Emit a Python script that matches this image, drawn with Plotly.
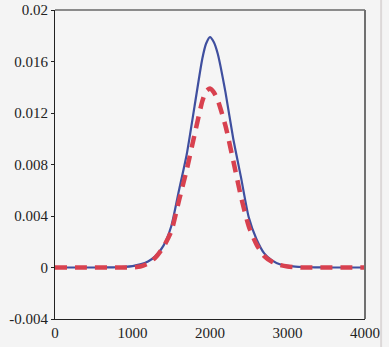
import plotly.graph_objects as go

x_vals = [0, 100, 200, 300, 400, 500, 600, 700, 800, 900, 1000, 1100, 1200, 1300, 1400,
          1500, 1600, 1700, 1800, 1900, 1950, 2000, 2050, 2100, 2200, 2300, 2400, 2500,
          2600, 2700, 2800, 2900, 3000, 3100, 3200, 3300, 3400, 3500, 3600, 3700, 3800,
          3900, 4000]

blue_vals = [0, 0, 0, 0, 0, 0, 0, 0.00001, 0.00002, 0.00005, 0.00011, 0.00024, 0.00047,
             0.00090, 0.00170, 0.00320, 0.00600, 0.00880, 0.01250, 0.01620, 0.01740,
             0.01790, 0.01750, 0.01660, 0.01360, 0.01000, 0.00700, 0.00390, 0.00220,
             0.00110, 0.00055, 0.00025, 0.00013, 0.00007, 0.00004, 0.00002, 0.00001,
             0, 0, 0, 0, 0, 0]

red_vals = [0, 0, 0, 0, 0, 0, 0, 0, 0, 0, 0.00001, 0.00008, 0.00030, 0.00080, 0.00160,
            0.00280, 0.00520, 0.00760, 0.01030, 0.01290, 0.01370, 0.01390, 0.01360,
            0.01300, 0.01100, 0.00830, 0.00550, 0.00320, 0.00180, 0.00088, 0.00045,
            0.00020, 0.00008, 0.00003, 0, 0, 0, 0, 0, 0, 0, 0, 0]

y_ticks = [-0.004, 0, 0.004, 0.008, 0.012, 0.016, 0.02]
y_tick_labels = ["-0.004", "0", "0.004", "0.008", "0.012", "0.016", "0.02"]
x_ticks = [0, 1000, 2000, 3000, 4000]
x_tick_labels = ["0", "1000", "2000", "3000", "4000"]

fig = go.Figure()
fig.add_trace(go.Scatter(x=x_vals, y=blue_vals, mode="lines",
                         line=dict(color="#3f4f9f", width=2.2, shape="spline", smoothing=0.6),
                         showlegend=False))
fig.add_trace(go.Scatter(x=x_vals, y=red_vals, mode="lines",
                         line=dict(color="#d8414f", width=4.5, dash="12px,8px",
                                   shape="spline", smoothing=0.6),
                         showlegend=False))

font = dict(family="Times New Roman, Liberation Serif, serif", size=15, color="#222222")
fig.update_layout(
    width=389, height=347,
    margin=dict(l=55, r=24, t=10, b=28),
    paper_bgcolor="#f4f4f4", plot_bgcolor="#f5f5f5",
    font=font,
    xaxis=dict(range=[0, 4000], tickvals=x_ticks, ticktext=x_tick_labels,
               showgrid=False, zeroline=False, showline=True, linecolor="#222222",
               linewidth=1.2, mirror=False, ticks="", tickfont=font, ticklabelstandoff=0,
               automargin=False),
    yaxis=dict(range=[-0.004, 0.02], tickvals=y_ticks, ticktext=y_tick_labels,
               showgrid=False, zeroline=False, showline=True, linecolor="#222222",
               linewidth=1.2, mirror=False, ticks="outside", ticklen=3, tickcolor="#222222",
               tickfont=font, automargin=False),
    shapes=[
        dict(type="line", xref="paper", yref="paper", x0=0, x1=1, y0=1, y1=1,
             line=dict(color="#222222", width=1.2)),
        dict(type="line", xref="paper", yref="paper", x0=1, x1=1, y0=0, y1=1,
             line=dict(color="#707070", width=2)),
        dict(type="line", xref="paper", yref="paper", x0=1.052, x1=1.052, y0=-0.1, y1=1.04,
             line=dict(color="#dcd8d8", width=2)),
    ],
)

fig.write_html("out.html", config={"displayModeBar": False},
               post_script="document.body.style.margin='0';document.body.style.overflow='hidden';document.body.style.background='#f4f4f4';")
